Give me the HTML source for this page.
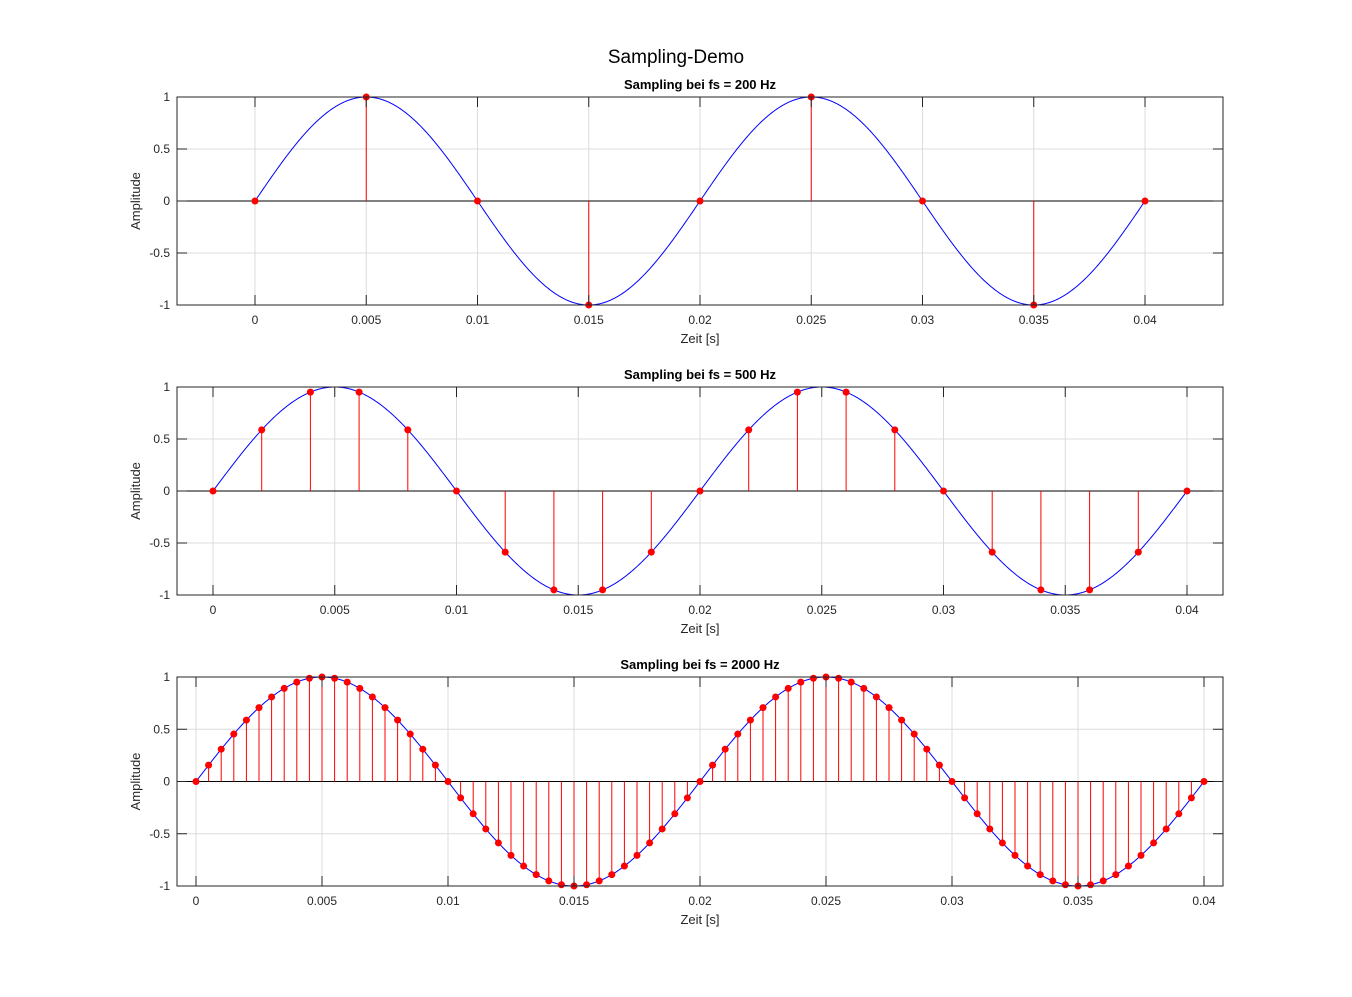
<!DOCTYPE html>
<html><head><meta charset="utf-8"><style>
body{margin:0;background:#fff;}
svg text{font-family:"Liberation Sans",sans-serif;}
</style></head><body>
<svg id="s" width="1352" height="992" xmlns="http://www.w3.org/2000/svg">
<rect width="1352" height="992" fill="#fff"/>
<text x="676" y="63" font-size="19" text-anchor="middle" fill="#000">Sampling-Demo</text>
</svg>
<script>
var s=document.getElementById('s'),h='';
var L=177,R=1223;
var cfg=[{top:97,bot:305,x0:255,x1:1145,fs:200,title:'Sampling bei fs = 200 Hz'},
{top:387,bot:595,x0:213,x1:1187,fs:500,title:'Sampling bei fs = 500 Hz'},
{top:677,bot:886,x0:196,x1:1204,fs:2000,title:'Sampling bei fs = 2000 Hz'}];
cfg.forEach(function(c){
 var X=function(t){return c.x0+(c.x1-c.x0)*t/0.04;};
 var mid=(c.top+c.bot)/2,amp=(c.bot-c.top)/2;
 var Y=function(v){return mid-v*amp;};
 // grid
 for(var i=0;i<=8;i++){var x=X(i*0.005);h+='<line x1="'+x+'" y1="'+c.top+'" x2="'+x+'" y2="'+c.bot+'" stroke="#dcdcdc" stroke-width="1"/>';}
 [1,0.5,0,-0.5,-1].forEach(function(v){var y=Y(v);h+='<line x1="'+L+'" y1="'+y+'" x2="'+R+'" y2="'+y+'" stroke="#dcdcdc" stroke-width="1"/>';});
 // zero line
 h+='<line x1="'+L+'" y1="'+mid+'" x2="'+R+'" y2="'+mid+'" stroke="#000" stroke-width="1"/>';
 // curve
 var p='';for(var k=0;k<=800;k++){var t=0.04*k/800;p+=(k?'L':'M')+X(t).toFixed(2)+' '+Y(Math.sin(2*Math.PI*50*t)).toFixed(2);}
 h+='<path d="'+p+'" fill="none" stroke="#0000ff" stroke-width="1"/>';
 // stems
 var n=Math.round(0.04*c.fs);
 for(var k=0;k<=n;k++){var t=k/c.fs,v=Math.sin(2*Math.PI*50*t);if(Math.abs(v)<1e-9)v=0;
  h+='<line x1="'+X(t)+'" y1="'+mid+'" x2="'+X(t)+'" y2="'+Y(v)+'" stroke="#ff0000" stroke-width="1"/>';}
 for(var k=0;k<=n;k++){var t=k/c.fs,v=Math.sin(2*Math.PI*50*t);if(Math.abs(v)<1e-9)v=0;
  h+='<circle cx="'+X(t)+'" cy="'+Y(v)+'" r="3.5" fill="#ff0000"/>';}
 // box
 h+='<rect x="'+L+'" y="'+c.top+'" width="'+(R-L)+'" height="'+(c.bot-c.top)+'" fill="none" stroke="#262626" stroke-width="1"/>';
 // ticks
 var labs=['0','0.005','0.01','0.015','0.02','0.025','0.03','0.035','0.04'];
 for(var i=0;i<=8;i++){var x=X(i*0.005);
  h+='<line x1="'+x+'" y1="'+c.bot+'" x2="'+x+'" y2="'+(c.bot-10)+'" stroke="#262626"/>';
  h+='<line x1="'+x+'" y1="'+c.top+'" x2="'+x+'" y2="'+(c.top+10)+'" stroke="#262626"/>';
  h+='<text x="'+x+'" y="'+(c.bot+19)+'" font-size="12" text-anchor="middle" fill="#262626">'+labs[i]+'</text>';}
 [[1,'1'],[0.5,'0.5'],[0,'0'],[-0.5,'-0.5'],[-1,'-1']].forEach(function(a){var y=Y(a[0]);
  h+='<line x1="'+L+'" y1="'+y+'" x2="'+(L+10)+'" y2="'+y+'" stroke="#262626"/>';
  h+='<line x1="'+R+'" y1="'+y+'" x2="'+(R-10)+'" y2="'+y+'" stroke="#262626"/>';
  h+='<text x="'+(L-7)+'" y="'+(y+4)+'" font-size="12" text-anchor="end" fill="#262626">'+a[1]+'</text>';});
 h+='<text x="700" y="'+(c.top-8)+'" font-size="13" font-weight="bold" text-anchor="middle" fill="#000">'+c.title+'</text>';
 h+='<text x="700" y="'+(c.bot+38)+'" font-size="13" text-anchor="middle" fill="#262626">Zeit [s]</text>';
 h+='<text transform="translate(140,'+mid+') rotate(-90)" font-size="13" text-anchor="middle" fill="#262626">Amplitude</text>';
});
s.insertAdjacentHTML('beforeend',h);
</script>
</body></html>
